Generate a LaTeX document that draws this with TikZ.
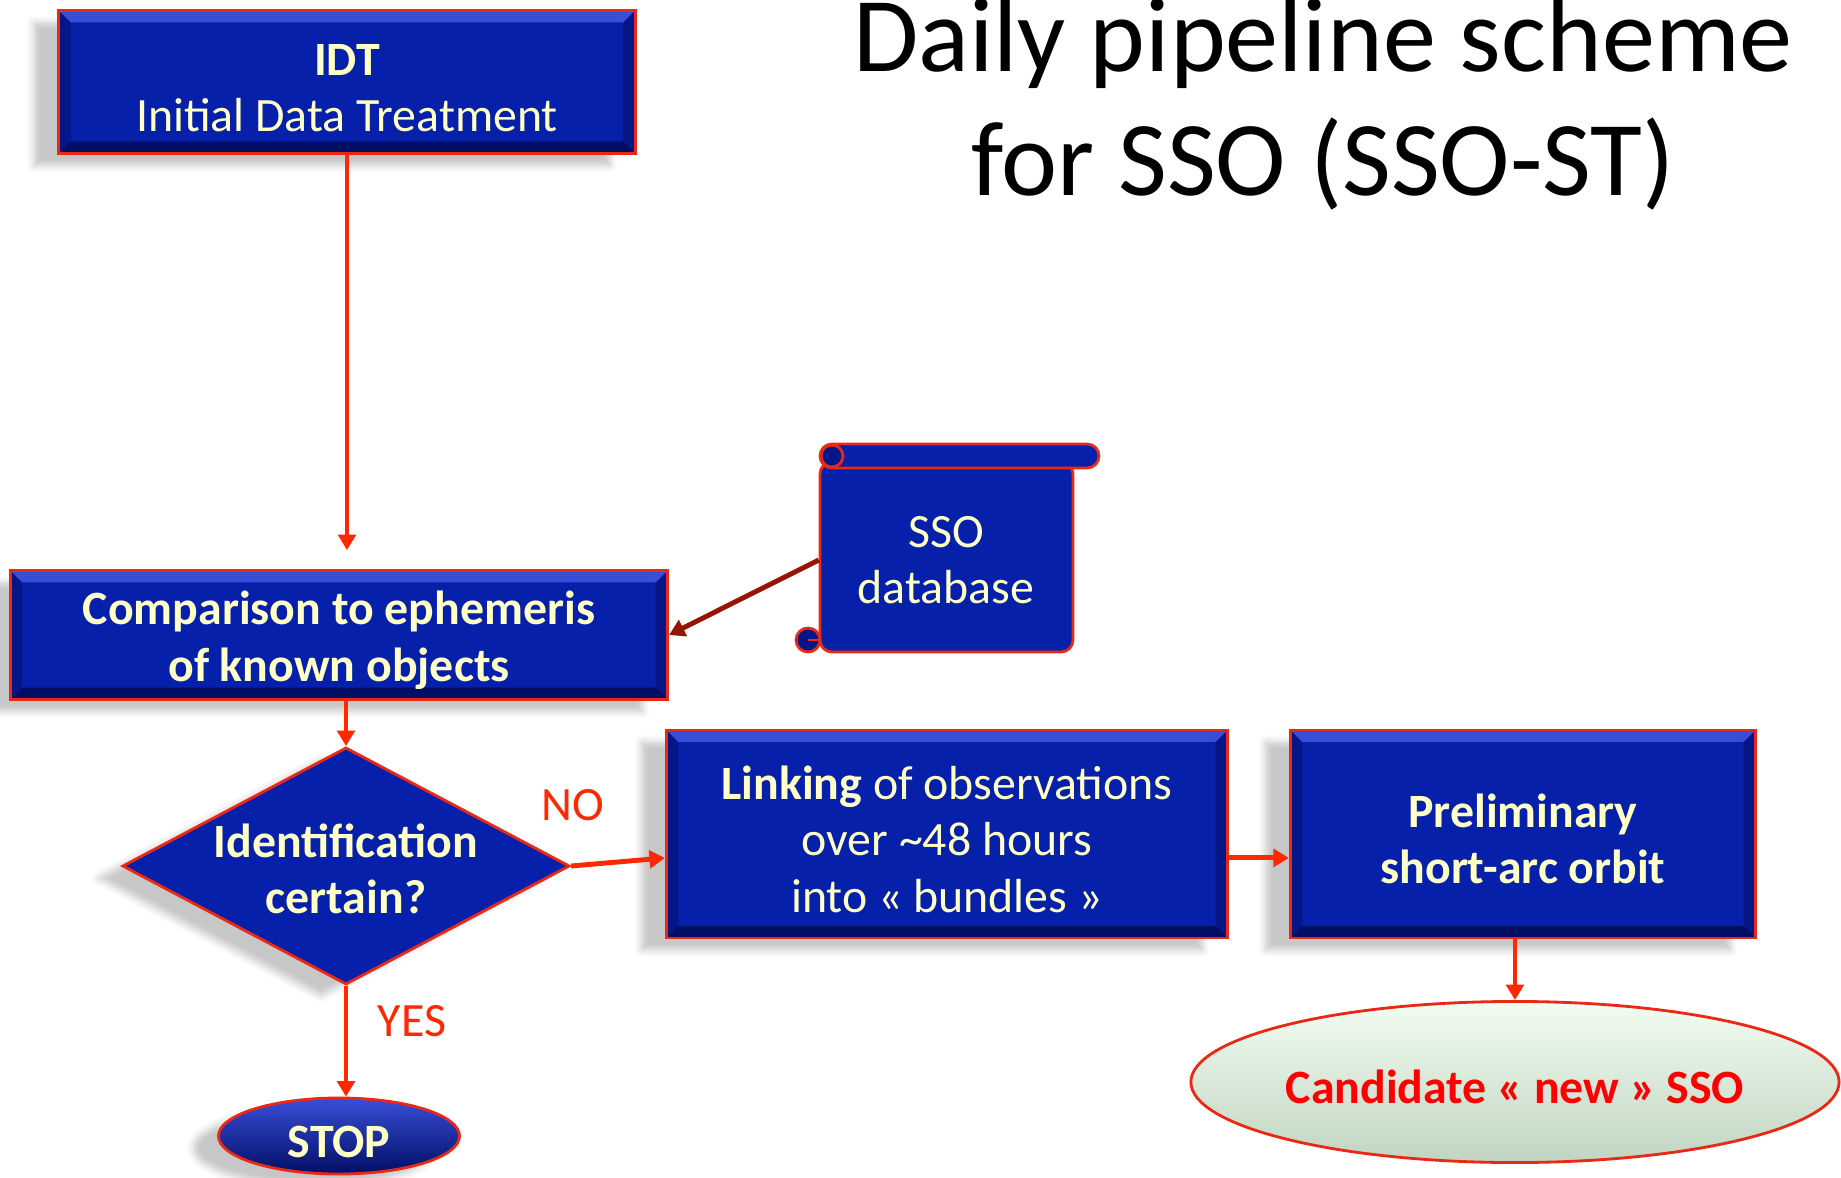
\documentclass[tikz,border=0pt]{standalone}
\usepackage{fontspec}
\setmainfont{Carlito}
\usetikzlibrary{shapes.geometric,arrows.meta,shadows.blur}

\definecolor{boxblue}{RGB}{6,32,170}
\definecolor{bevlight}{RGB}{56,78,216}
\definecolor{bevdark}{RGB}{2,14,100}
\definecolor{bevside}{RGB}{4,22,136}
\definecolor{edgered}{RGB}{235,40,20}
\definecolor{boxtext}{RGB}{255,255,200}
\definecolor{flowred}{RGB}{255,40,0}
\definecolor{dbred}{RGB}{150,20,0}
\definecolor{candgreen}{RGB}{221,249,221}

\def\bevw{3.4pt}
\newcommand\tstrut{\rule{0pt}{12.5pt}}

\tikzset{
  bevel/.style={path picture={
    \path (path picture bounding box.north west) coordinate (bnw)
          (path picture bounding box.south east) coordinate (bse);
    \fill[bevside] (bnw) -- ([shift={(\bevw,-\bevw)}]bnw) -- ([shift={(\bevw,\bevw)}]bse-|bnw) -- (bse-|bnw) -- cycle;
    \fill[bevside] (bse) -- ([shift={(-\bevw,\bevw)}]bse) -- ([shift={(-\bevw,-\bevw)}]bnw-|bse) -- (bnw-|bse) -- cycle;
    \fill[bevlight] (bnw) -- (bnw-|bse) -- ([shift={(-\bevw,-\bevw)}]bnw-|bse) -- ([shift={(\bevw,-\bevw)}]bnw) -- cycle;
    \fill[bevdark] (bse) -- (bse-|bnw) -- ([shift={(\bevw,\bevw)}]bse-|bnw) -- ([shift={(-\bevw,\bevw)}]bse) -- cycle;
  }},
  topstrut/.style={execute at begin node={\tstrut}},
  softshadow/.style={blur shadow={shadow xshift=-2.5mm, shadow yshift=-1.2mm, shadow opacity=22}},
  bluebox/.style={rectangle, draw=edgered, line width=0.8pt, fill=boxblue, text=boxtext,
    align=center, inner sep=0pt, font=\fontsize{13.6}{16}\selectfont, bevel, softshadow},
  decision/.style={diamond, draw=edgered, line width=0.8pt, fill=boxblue, inner sep=0pt, softshadow},
  boxlabel/.style={text=boxtext, align=center, font=\fontsize{13.6}{16}\selectfont\bfseries},
  stopshape/.style={ellipse, draw=edgered, line width=0.8pt, top color=bevlight, middle color=boxblue,
    bottom color=bevdark, text=boxtext, inner sep=0pt, font=\fontsize{13.6}{16}\selectfont\bfseries, softshadow, topstrut},
  candshape/.style={ellipse, draw=edgered, line width=0.8pt, top color=white!60!candgreen, middle color=candgreen,
    bottom color=candgreen!70!gray, text=red, inner sep=0pt, font=\fontsize{13.6}{16}\selectfont\bfseries, topstrut},
  scroll/.style={draw=edgered, line width=0.8pt, fill=boxblue},
  flow/.style={draw=flowred, line width=1.4pt, -{Triangle[width=5pt,length=4.4pt]}},
  dbflow/.style={draw=dbred, line width=1.4pt, -{Triangle[width=5pt,length=4.4pt]}},
  flowlabel/.style={text=flowred, font=\fontsize{13.6}{16}\selectfont},
}

\begin{document}
\begin{tikzpicture}[x=0.01cm, y=-0.01cm]
\useasboundingbox (0,0) rectangle (1841,1178);

% title
\node[align=center, font=\fontsize{30.2}{35}\selectfont] (title) at (1323,104) {Daily pipeline scheme\\for SSO (SSO-ST)};

% boxes
\node[bluebox, minimum width=5.76cm, minimum height=1.43cm] (idt) at (347,82) {\tstrut\textbf{IDT}\\Initial Data Treatment};
\node[bluebox, minimum width=6.57cm, minimum height=1.29cm, font=\fontsize{13.6}{16}\selectfont\bfseries] (comp) at (339,635) {\tstrut Comparison to ephemeris\\of known objects};
\node[decision, minimum width=4.47cm, minimum height=2.37cm] (dia) at (346,866) {};
\node[boxlabel] (diatext) at (346,869) {Identification\\certain?};
\node[bluebox, minimum width=5.61cm, minimum height=2.08cm] (link) at (947,834) {\tstrut\textbf{Linking} of observations\\over \textasciitilde48 hours\\into « bundles »};
\node[bluebox, minimum width=4.65cm, minimum height=2.08cm, font=\fontsize{13.6}{16}\selectfont\bfseries] (prelim) at (1523,834) {\tstrut Preliminary\\short-arc orbit};
\node[candshape, minimum width=6.42cm, minimum height=1.61cm] (cand) at (1515,1082) {Candidate « new » SSO};
\node[stopshape, minimum width=2.41cm, minimum height=0.76cm] (stop) at (339,1136) {STOP};

% SSO database scroll
\filldraw[scroll, rounded corners=3.4pt] (820,462) rectangle (1073,652);
\filldraw[scroll, rounded corners=3.4pt] (820,444) rectangle (1099,468);
\filldraw[scroll, fill=bevside] (832,456) circle[radius=11];
\filldraw[scroll, fill=bevside] (808,640) circle[radius=12];
\draw[edgered, line width=0.8pt] (808,640) -- (820,640);
\node[text=boxtext, align=center, font=\fontsize{13.6}{16}\selectfont, minimum width=2.53cm, minimum height=1.9cm] (db) at (946,560) {SSO\\database};

% connectors
\draw[flow, shorten >=5.4pt] (idt.south) -- (idt.south |- comp.north);
\draw[flow] (comp.south -| dia.north) -- (dia.north);
\draw[dbflow] (db.west) -- (comp.east);
\draw[flow] (dia.east) -- ([yshift=-6.8pt]link.west);
\draw[flow] ([yshift=-6.8pt]link.east) -- ([yshift=-6.8pt]prelim.west);
\draw[flow] (prelim.south -| cand.north) -- (cand.north);
\draw[flow] (dia.south) -- (dia.south |- stop.north);

\node[flowlabel] (no) at (573,805) {NO};
\node[flowlabel] (yes) at (412,1021) {YES};
\end{tikzpicture}
\end{document}
